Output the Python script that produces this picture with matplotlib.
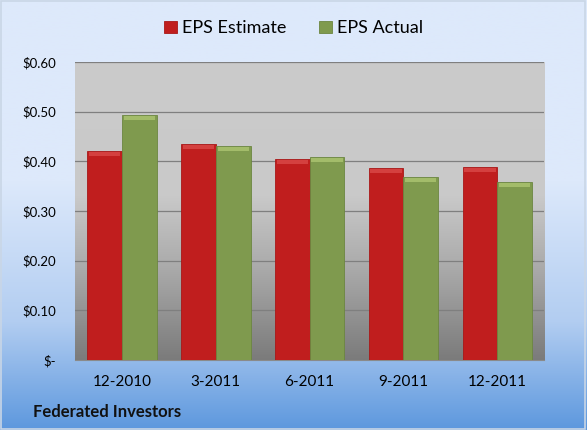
import numpy as np
import matplotlib
matplotlib.use('Agg')
import matplotlib.pyplot as plt
from matplotlib.colors import LinearSegmentedColormap

# Data
quarters = ['12-2010', '3-2011', '6-2011', '9-2011', '12-2011']
eps_estimate = [0.42, 0.435, 0.405, 0.387, 0.388]
eps_actual = [0.493, 0.43, 0.408, 0.368, 0.358]
y_ticks = [0.0, 0.1, 0.2, 0.3, 0.4, 0.5, 0.6]
y_tick_labels = ['$-', '$0.10', '$0.20', '$0.30', '$0.40', '$0.50', '$0.60']
company = 'Federated Investors'

plt.rcParams['font.family'] = ['Lato', 'DejaVu Sans']

fig = plt.figure(figsize=(5.87, 4.30), dpi=100)

# figure background gradient (light blue top -> blue bottom)
bg = fig.add_axes([0, 0, 1, 1], zorder=-10)
bg_cmap = LinearSegmentedColormap.from_list(
    'bg', [(0.0, '#dde9fb'), (0.42, '#dde9fb'), (0.75, '#b2cdf1'), (1.0, '#5d98de')])
bg.imshow(np.linspace(0, 1, 256).reshape(-1, 1), aspect='auto', cmap=bg_cmap,
          extent=[0, 1, 0, 1], origin='upper')
bg.set_xlim(0, 1)
bg.set_ylim(0, 1)
bg.axis('off')
bg.add_patch(plt.Rectangle((0.002, 0.003), 0.995, 0.994, fill=False,
                           edgecolor='#c9d6e6', linewidth=1.2))

ax = fig.add_axes([0.128, 0.163, 0.799, 0.693])
x = np.arange(len(quarters))
w = 0.37

# plot area gray gradient
pa_cmap = LinearSegmentedColormap.from_list(
    'pa', [(0.0, '#cbcbcb'), (0.45, '#c9c9c9'), (0.7, '#a9a9a9'), (1.0, '#7b7b7b')])
ax.imshow(np.linspace(0, 1, 256).reshape(-1, 1), aspect='auto', cmap=pa_cmap,
          extent=[-0.5, len(quarters) - 0.5, 0, 0.6], origin='upper', zorder=0)

for t in y_ticks[1:]:
    ax.axhline(t, color='#7f7f7f', linewidth=0.9, zorder=1)

b1 = ax.bar(x - w / 2, eps_estimate, w, color='#c01e1e', edgecolor='#a81818',
            linewidth=0.6, label='EPS Estimate', zorder=3)
b2 = ax.bar(x + w / 2, eps_actual, w, color='#7f9a4e', edgecolor='#6c8640',
            linewidth=0.6, label='EPS Actual', zorder=3)

# subtle bevel highlight on top of bars
cap = 0.008
ax.bar(x - w / 2, [cap] * len(x), w * 0.9, bottom=np.array(eps_estimate) - cap - 0.002,
       color='#d4403f', linewidth=0, zorder=4)
ax.bar(x + w / 2, [cap] * len(x), w * 0.9, bottom=np.array(eps_actual) - cap - 0.002,
       color='#a3bc6a', linewidth=0, zorder=4)

ax.set_xlim(-0.5, len(quarters) - 0.5)
ax.set_ylim(0, 0.6)
ax.set_yticks(y_ticks)
ax.set_yticklabels(y_tick_labels, fontsize=9.5)
ax.set_xticks(x)
ax.set_xticklabels(quarters, fontsize=11)
ax.tick_params(axis='x', length=0, pad=11)
ax.tick_params(axis='y', length=0, pad=14)
for s in ['top', 'right', 'left']:
    ax.spines[s].set_visible(False)
ax.spines['bottom'].set_color('#8a8a8a')
ax.set_facecolor('none')

fig.legend(handles=[b1, b2], loc='center', bbox_to_anchor=(0.5, 0.934), ncol=2,
           frameon=False, fontsize=13, handlelength=0.7, handleheight=0.7,
           handletextpad=0.3, columnspacing=1.8)

fig.text(0.057, 0.03, company, fontsize=12, fontweight='bold', color='#111111')

fig.savefig('out.png', dpi=100)
